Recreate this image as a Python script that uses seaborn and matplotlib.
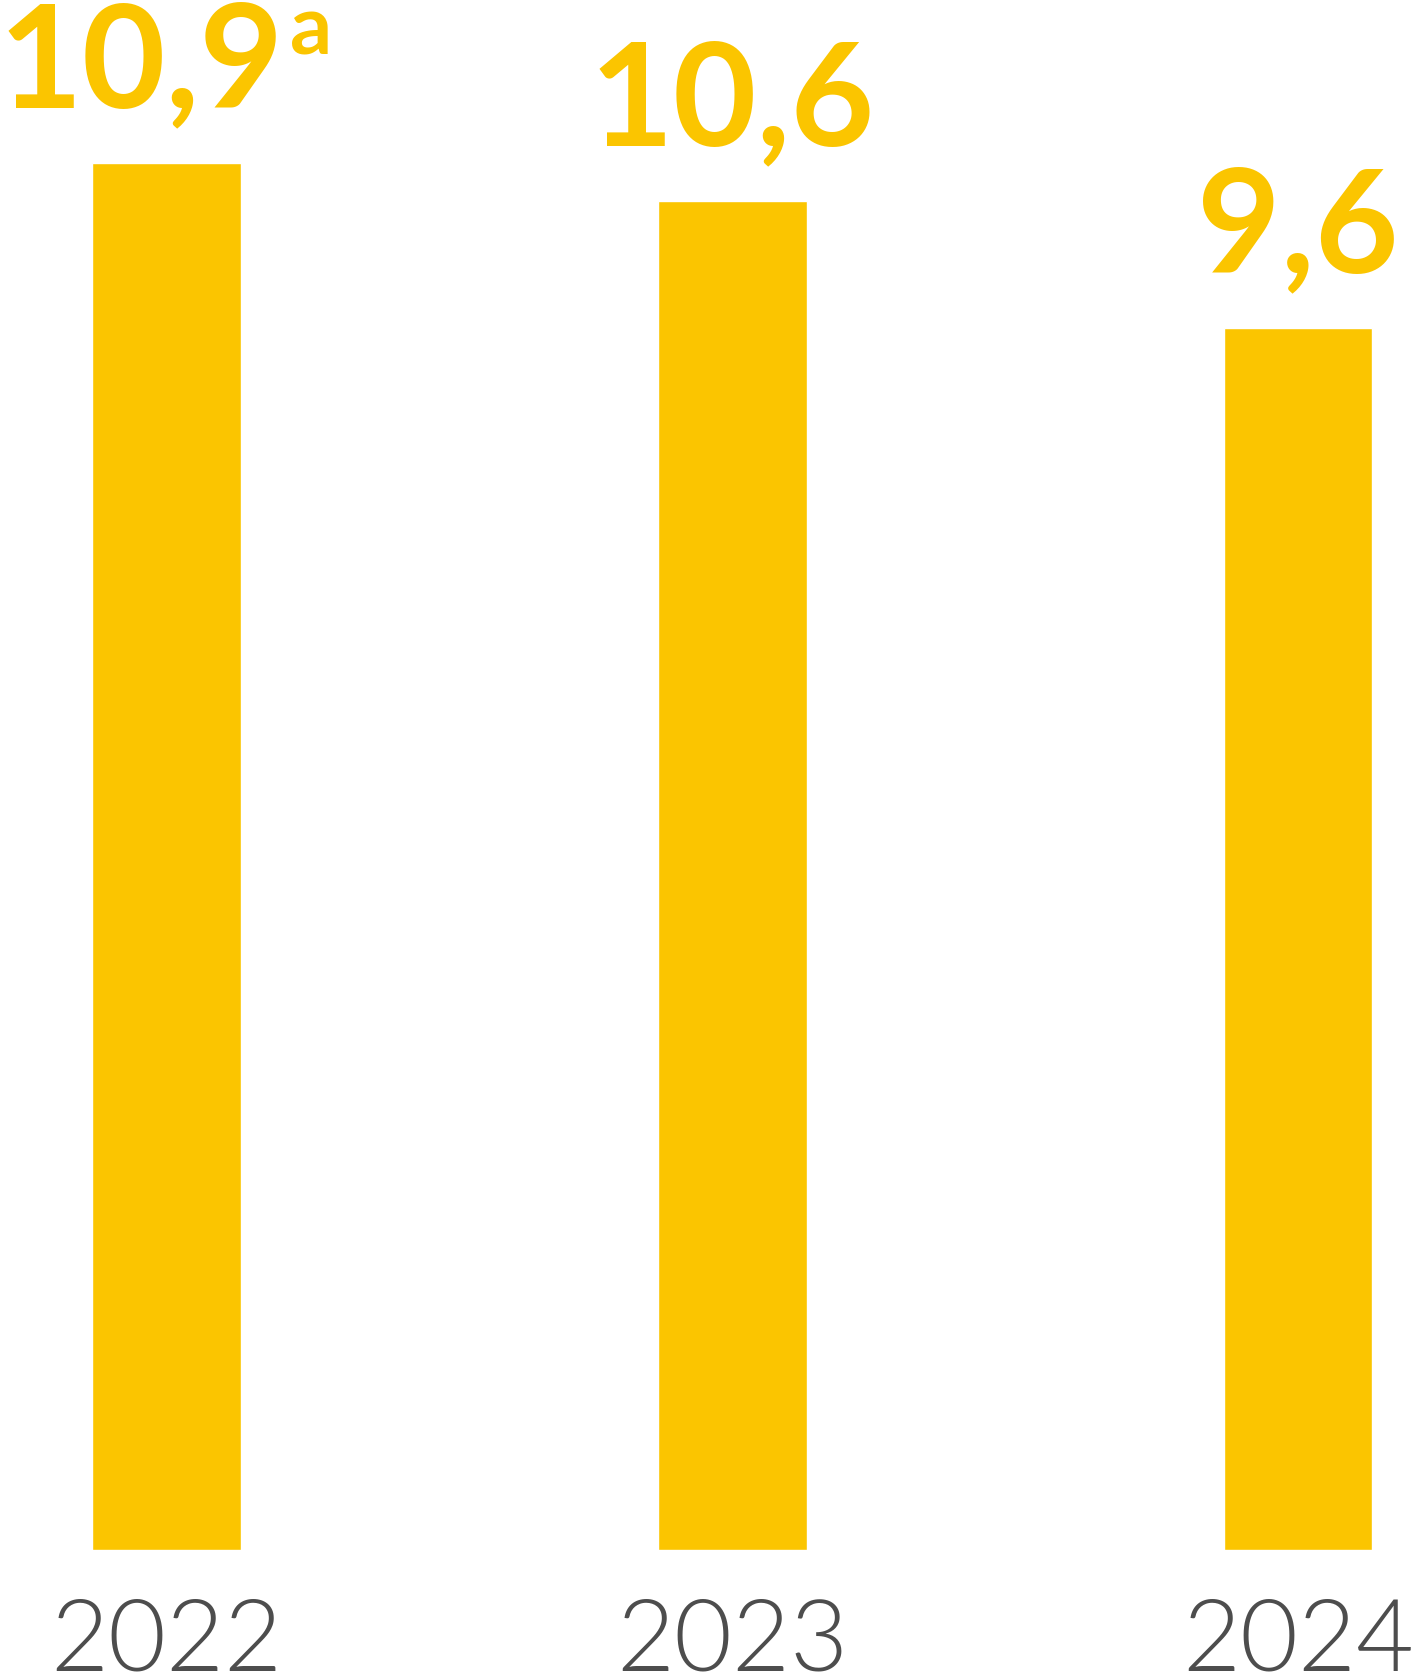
import matplotlib
matplotlib.use("Agg")
import matplotlib.pyplot as plt
import seaborn as sns
import pandas as pd

# Data
years = ["2022", "2023", "2024"]
values = [10.9, 10.6, 9.6]
footnotes = ["a", "", ""]

BAR_COLOR = "#FBC500"
TEXT_GRAY = "#4D4D4D"

sns.set_style("white")
plt.rcParams["font.family"] = ["Lato", "DejaVu Sans"]

df = pd.DataFrame({"year": years, "value": values})

W, H, DPI = 1419, 1672, 100
fig = plt.figure(figsize=(W / DPI, H / DPI), dpi=DPI)
ax = fig.add_axes([0, 122 / H, 1, 1 - 122 / H])

sns.barplot(data=df, x="year", y="value", color=BAR_COLOR, saturation=1,
            width=0.263, ax=ax)

ax.set_xlim(-0.2943, 2.2139)
ax.set_ylim(0, 12.18)
ax.set_xlabel("")
ax.set_ylabel("")
ax.set_yticks([])
for s in ax.spines.values():
    s.set_visible(False)
ax.tick_params(axis="x", length=0, pad=34, labelsize=72, labelcolor=TEXT_GRAY)
for t in ax.get_xticklabels():
    t.set_fontweight(300)

for bar, v, fn in zip(ax.patches, values, footnotes):
    cx = bar.get_x() + bar.get_width() / 2
    top = bar.get_height()
    label = f"{v:.1f}".replace(".", ",")
    shift = -18 if fn else 0
    ax.annotate(label, (cx, top), xytext=(shift, 40), textcoords="offset points",
                ha="center", va="baseline", fontsize=104, fontweight="bold",
                color=BAR_COLOR)
    if fn:
        ax.annotate(fn, (cx, top), xytext=(89, 78), textcoords="offset points",
                    ha="left", va="baseline", fontsize=60, fontweight="bold",
                    color=BAR_COLOR)

fig.savefig("out.png", dpi=DPI, facecolor="white")
